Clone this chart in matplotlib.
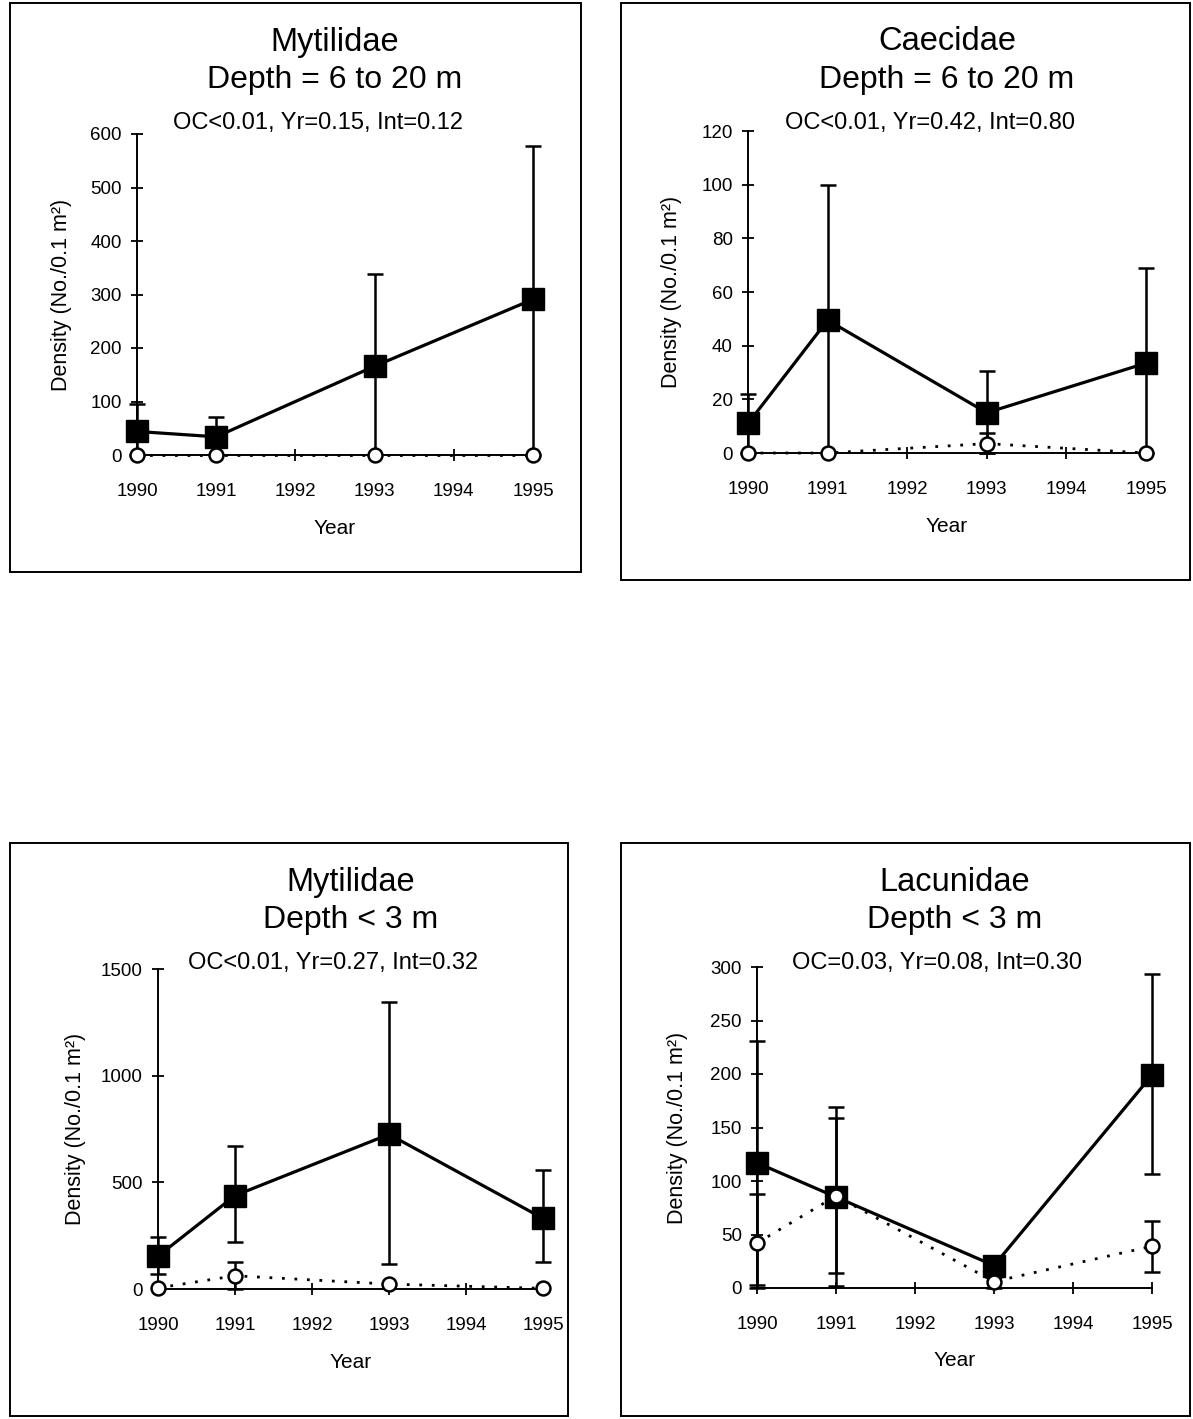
import matplotlib
matplotlib.use("Agg")
import matplotlib.pyplot as plt
from matplotlib.patches import Rectangle
import numpy as np

W, H = 1193, 1419  # output size in pixels
plt.rcParams["font.family"] = ["Liberation Sans", "DejaVu Sans"]

years = [1990, 1991, 1993, 1995]
year_ticks = [1990, 1991, 1992, 1993, 1994, 1995]

# Mytilidae, depth 6 to 20 m
myt_deep_fill = [44, 34, 166, 291]
myt_deep_fill_lo = [0, 0, 0, 0]
myt_deep_fill_hi = [95, 71, 339, 577]
myt_deep_open = [0, 0, 0, 0]
myt_deep_open_lo = [0, 0, 0, 0]
myt_deep_open_hi = [0, 0, 0, 0]

# Caecidae, depth 6 to 20 m
caec_fill = [11, 49.5, 15, 33.5]
caec_fill_lo = [0, 0, 0, 0]
caec_fill_hi = [22, 100, 30.5, 69]
caec_open = [0, 0, 3.5, 0]
caec_open_lo = [0, 0, 0, 0]
caec_open_hi = [0, 0, 7.5, 0]

# Mytilidae, depth < 3 m
myt_shal_fill = [154, 438, 725, 331]
myt_shal_fill_lo = [70, 222, 115, 128]
myt_shal_fill_hi = [246, 672, 1345, 558]
myt_shal_open = [5, 62, 23, 3]
myt_shal_open_lo = [5, 0, 23, 3]
myt_shal_open_hi = [5, 126, 23, 3]

# Lacunidae, depth < 3 m
lacu_fill = [117, 85, 21, 199]
lacu_fill_lo = [3, 2, 12, 107]
lacu_fill_hi = [231, 169, 30, 293]
lacu_open = [42, 86, 6, 39]
lacu_open_lo = [0, 14, 0, 15]
lacu_open_hi = [88, 159, 10, 63]

panels = [
    dict(title="Mytilidae", depth="Depth = 6 to 20 m", stats="OC<0.01, Yr=0.15, Int=0.12",
         fill=(myt_deep_fill, myt_deep_fill_lo, myt_deep_fill_hi),
         open=(myt_deep_open, myt_deep_open_lo, myt_deep_open_hi),
         yticks=[0, 100, 200, 300, 400, 500, 600],
         box=(10, 3, 581, 572), axes=(137, 134, 533, 455), ylab_x=62),
    dict(title="Caecidae", depth="Depth = 6 to 20 m", stats="OC<0.01, Yr=0.42, Int=0.80",
         fill=(caec_fill, caec_fill_lo, caec_fill_hi),
         open=(caec_open, caec_open_lo, caec_open_hi),
         yticks=[0, 20, 40, 60, 80, 100, 120],
         box=(621, 3, 1190, 580), axes=(748, 131, 1146, 453), ylab_x=672),
    dict(title="Mytilidae", depth="Depth < 3 m", stats="OC<0.01, Yr=0.27, Int=0.32",
         fill=(myt_shal_fill, myt_shal_fill_lo, myt_shal_fill_hi),
         open=(myt_shal_open, myt_shal_open_lo, myt_shal_open_hi),
         yticks=[0, 500, 1000, 1500],
         box=(10, 843, 568, 1416), axes=(158, 969, 543, 1289), ylab_x=75),
    dict(title="Lacunidae", depth="Depth < 3 m", stats="OC=0.03, Yr=0.08, Int=0.30",
         fill=(lacu_fill, lacu_fill_lo, lacu_fill_hi),
         open=(lacu_open, lacu_open_lo, lacu_open_hi),
         yticks=[0, 50, 100, 150, 200, 250, 300],
         box=(621, 843, 1190, 1416), axes=(757, 967, 1152, 1288), ylab_x=678),
]


def fx(x):
    return x / W


def fy(y):
    return 1 - y / H


def draw_errors(ax, y, lo, hi):
    y, lo, hi = map(np.asarray, (y, lo, hi))
    keep = (hi > y) | (lo < y)
    if keep.any():
        x = np.asarray(years)[keep]
        ax.errorbar(x, y[keep], yerr=[y[keep] - lo[keep], hi[keep] - y[keep]],
                     fmt="none", ecolor="black", elinewidth=1.8, capsize=6,
                     capthick=1.8, clip_on=False, zorder=2)


fig = plt.figure(figsize=(W / 100, H / 100), dpi=100)

for p in panels:
    bx0, by0, bx1, by1 = p["box"]
    fig.patches.append(Rectangle((fx(bx0), fy(by1)), fx(bx1 - bx0), (by1 - by0) / H,
                                 transform=fig.transFigure, fill=False,
                                 edgecolor="black", linewidth=1.4))
    ax0, ay0, ax1, ay1 = p["axes"]
    ax = fig.add_axes([fx(ax0), fy(ay1), fx(ax1 - ax0), (ay1 - ay0) / H])

    fill, fill_lo, fill_hi = p["fill"]
    opn, opn_lo, opn_hi = p["open"]
    draw_errors(ax, fill, fill_lo, fill_hi)
    draw_errors(ax, opn, opn_lo, opn_hi)
    ax.plot(years, fill, color="black", linewidth=2.3, marker="s", markersize=16,
            markerfacecolor="black", clip_on=False, zorder=3)
    ax.plot(years, opn, color="black", linewidth=2.0, linestyle=(0, (1, 3.5)),
            marker="o", markersize=10, markerfacecolor="white",
            markeredgewidth=1.8, clip_on=False, zorder=4)

    ax.set_xlim(1990, 1995)
    ax.set_ylim(p["yticks"][0], p["yticks"][-1])
    ax.set_xticks(year_ticks)
    ax.set_yticks(p["yticks"])
    for side in ("top", "right"):
        ax.spines[side].set_visible(False)
    for side in ("left", "bottom"):
        ax.spines[side].set_linewidth(1.4)
    ax.tick_params(direction="inout", length=9, width=1.3, labelsize=13.5)
    ax.tick_params(axis="y", pad=6.5)
    ax.tick_params(axis="x", pad=16)
    ax.patch.set_visible(False)

    cx = (ax0 + ax1) / 2
    fig.text(fx(cx), fy(by0 + 39), p["title"], ha="center", va="center", fontsize=23.5)
    fig.text(fx(cx), fy(by0 + 77), p["depth"], ha="center", va="center", fontsize=23)
    fig.text(fx(cx - 17), fy(by0 + 120), p["stats"], ha="center", va="center", fontsize=17)
    fig.text(fx(cx), fy(ay1 + 73), "Year", ha="center", va="center", fontsize=15)
    fig.text(fx(p["ylab_x"]), fy((ay0 + ay1) / 2), "Density (No./0.1 m\u00b2)",
             rotation=90, ha="center", va="center", fontsize=15.5)

fig.savefig("out.png", dpi=100, facecolor="white")
